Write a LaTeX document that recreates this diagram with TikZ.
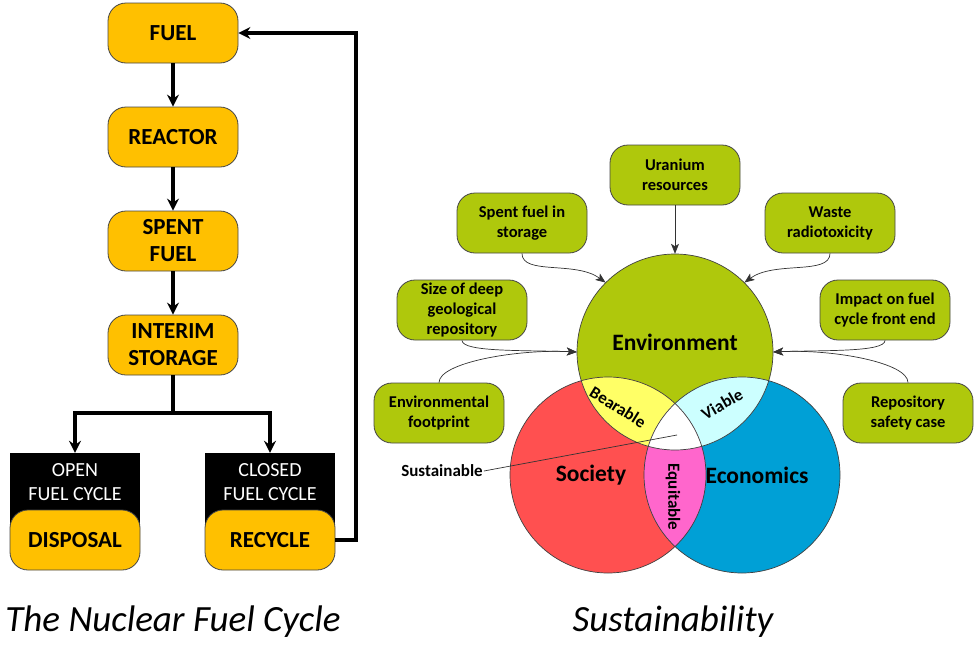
\documentclass[tikz,border=0pt]{standalone}
\usepackage{fontspec}
\setmainfont{Carlito}
\usetikzlibrary{arrows.meta}
\definecolor{fcy}{RGB}{255,192,0}
\definecolor{boxline}{RGB}{70,70,70}
\definecolor{envc}{RGB}{175,200,12}
\definecolor{socc}{RGB}{255,80,80}
\definecolor{ecoc}{RGB}{0,160,214}
\definecolor{bearc}{RGB}{255,255,102}
\definecolor{viac}{RGB}{204,255,255}
\definecolor{equc}{RGB}{255,102,204}
\begin{document}
\begin{tikzpicture}[x=1pt,y=-1pt,
  ybox/.style={draw=boxline, line width=0.8pt, fill=fcy, rounded corners=18pt,
    minimum width=130pt, minimum height=60pt, align=center, inner sep=0pt,
    font=\fontsize{23}{27}\selectfont\bfseries},
  blkbox/.style={fill=black, minimum width=130pt, minimum height=87pt, inner sep=0pt},
  wtext/.style={text=white, align=center, font=\fontsize{20}{24}\selectfont},
  gbox/.style={draw=boxline, line width=0.8pt, fill=envc, rounded corners=18pt,
    minimum width=130pt, minimum height=60pt, align=center, inner sep=0pt,
    font=\fontsize{16.5}{20}\selectfont\bfseries},
  flow/.style={line width=4pt, line join=miter, -{Stealth[length=12pt,width=12pt,inset=4pt]}},
  thin/.style={line width=0.7pt, draw=black!80, -{Stealth[length=10pt,width=8pt,inset=2.5pt]}},
  circline/.style={draw=black!75, line width=0.7pt},
  big/.style={font=\fontsize{23.5}{27}\selectfont\bfseries},
  mid/.style={font=\fontsize{17}{20}\selectfont\bfseries, inner sep=1pt},
  ttl/.style={font=\fontsize{37}{42}\selectfont\itshape}
]
\useasboundingbox (0,0) rectangle (980,664);

% ---------- Left: fuel cycle ----------
\node[ybox] (fuel) at (173,33) {FUEL};
\node[ybox] (reactor) at (173,137) {REACTOR};
\node[ybox] (spent) at (173,241) {SPENT\\FUEL};
\node[ybox] (interim) at (173,345) {INTERIM\\STORAGE};

\node[blkbox] (openbox) at (75,496.5) {};
\node[wtext] (opentxt) at (75,482) {OPEN\\FUEL CYCLE};
\node[ybox] (disposal) at (75,540) {DISPOSAL};

\node[blkbox] (closedbox) at (270,496.5) {};
\node[wtext] (closedtxt) at (270,482) {CLOSED\\FUEL CYCLE};
\node[ybox] (recycle) at (270,540) {RECYCLE};

\draw[flow] (fuel) -- (reactor);
\draw[flow] (reactor) -- (spent);
\draw[flow] (spent) -- (interim);
\draw[line width=4pt] (interim.south) -- ++(0,38) coordinate (split);
\draw[flow] (split) -| (openbox.north);
\draw[flow] (split) -| (closedbox.north);
\draw[flow] (recycle.east) -- ++(21,0) |- (fuel.east);

\node[ttl] (title1) at (173,622) {The Nuclear Fuel Cycle};

% ---------- Right: sustainability ----------
\def\EC{(675,352) circle (98pt)}
\def\SC{(608,475) circle (98pt)}
\def\ECO{(742,475) circle (98pt)}
\fill[envc] \EC;
\fill[socc] \SC;
\fill[ecoc] \ECO;
\begin{scope}\clip \SC; \fill[bearc] \EC; \end{scope}
\begin{scope}\clip \EC; \fill[viac] \ECO; \end{scope}
\begin{scope}\clip \SC; \fill[equc] \ECO; \end{scope}
\begin{scope}\clip \SC; \clip \EC; \fill[white] \ECO; \end{scope}
\draw[circline] \EC;
\draw[circline] \SC;
\draw[circline] \ECO;

\node[circle, minimum size=196pt, inner sep=0pt] (env) at (675,352) {};
\node[big] (envlbl) at (675,342) {Environment};
\node[big] (soclbl) at (591,475) {Society};
\node[big] (ecolbl) at (757,475) {Economics};
\node[mid, rotate=-32] (bear) at (618,407) {Bearable};
\node[mid, rotate=30] (viab) at (722,404) {Viable};
\node[mid, rotate=-90] (equi) at (673,497) {Equitable};

\node[mid] (sust) at (442,471) {Sustainable};
\coordinate (sustpt) at (677,435);
\draw[line width=0.7pt, draw=black!80] (sust.east) -- (sustpt);

\node[gbox] (uran) at (675,175) {Uranium\\resources};
\node[gbox] (sfs) at (522,223) {Spent fuel in\\storage};
\node[gbox] (waste) at (830,223) {Waste\\radiotoxicity};
\node[gbox] (sizedgr) at (462,310) {Size of deep\\geological\\repository};
\node[gbox] (impact) at (885,310) {Impact on fuel\\cycle front end};
\node[gbox] (efoot) at (439,413) {Environmental\\footprint};
\node[gbox] (rsafe) at (908,413) {Repository\\safety case};

\draw[thin] (uran.south) -- (env.north);
\draw[thin] (sfs.south) .. controls +(0,22) and +(-30,-22) .. (env.135);
\draw[thin] (waste.south) .. controls +(0,22) and +(30,-22) .. (env.45);
\draw[thin] (sizedgr.south) .. controls +(0,12) and +(-50,-2) .. (env.west);
\draw[thin] (efoot.north) .. controls +(0,-20) and +(-60,-3) .. (env.west);
\draw[thin] (impact.south) .. controls +(0,12) and +(50,-2) .. (env.east);
\draw[thin] (rsafe.north) .. controls +(0,-20) and +(60,-3) .. (env.east);

\node[ttl] (title2) at (673,622) {Sustainability};
\end{tikzpicture}
\end{document}
